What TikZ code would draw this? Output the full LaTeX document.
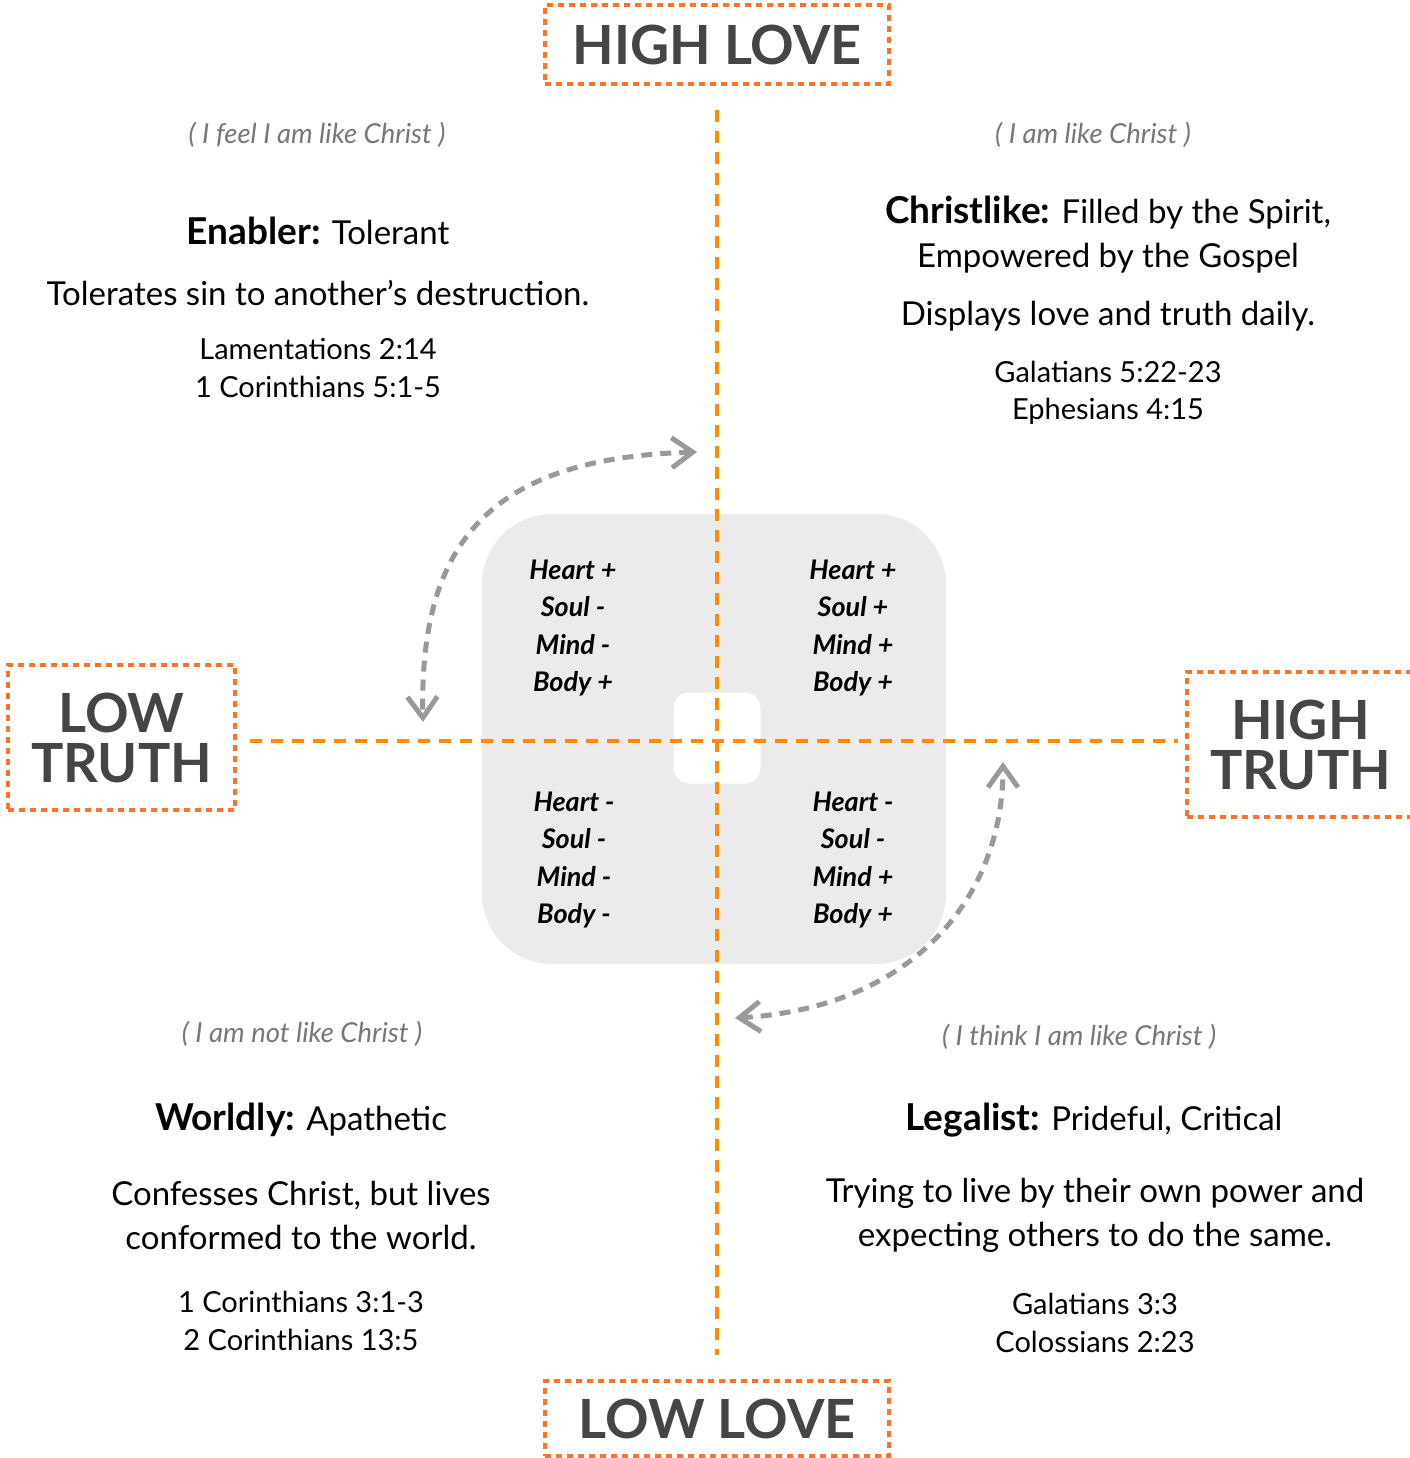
\documentclass[tikz,border=0pt]{standalone}
\usepackage{fontspec}
\setmainfont{Lato}
\usetikzlibrary{positioning,arrows.meta}
\definecolor{axisorange}{HTML}{FF8C00}
\definecolor{boxorange}{HTML}{FF7328}
\definecolor{labelgray}{HTML}{454545}
\definecolor{notegray}{HTML}{777777}
\definecolor{arrowgray}{HTML}{999999}
\definecolor{panelgray}{HTML}{EBEBEB}

\begin{document}
\begin{tikzpicture}
        [x=1pt, y=-1pt,
        axislabel/.style={draw=boxorange, line width=4.5pt, dash pattern=on 6pt off 5pt,
            text=labelgray, align=center, inner sep=0pt,
            font=\fontsize{54}{52}\selectfont\bfseries},
        axisline/.style={draw=axisorange, line width=4pt, dash pattern=on 12pt off 9pt},
        swing/.style={draw=arrowgray, line width=5pt, dash pattern=on 11pt off 8pt,
            {Straight Barb[length=21pt,width=30pt]}-{Straight Barb[length=21pt,width=30pt]}},
        note/.style={text=notegray, font=\fontsize{27.5}{30}\selectfont\itshape},
        heading/.style={font=\fontsize{33}{44}\selectfont, align=center},
        body/.style={font=\fontsize{33}{44}\selectfont, align=center},
        refs/.style={font=\fontsize{29}{37.5}\selectfont, align=center},
        parts/.style={font=\fontsize{27}{37.5}\selectfont\bfseries\itshape, align=center}]
        \useasboundingbox (0,0) rectangle (1409,1458);

        % panel behind the quadrants
        \node [fill=panelgray, rounded corners=70pt, minimum width=464pt, minimum height=450pt] (panel) at (714,739) {};
        \node [fill=white, rounded corners=16pt, minimum width=87pt, minimum height=91pt] (hole) at (717,738) {};

        \node [axislabel, minimum width=344pt, minimum height=79pt] (HighLove) at (717,44.5) {HIGH LOVE};
        \node [axislabel, minimum width=344pt, minimum height=75pt] (LowLove) at (717,1418.5) {LOW LOVE};
        \node [axislabel, minimum width=227pt, minimum height=145pt] (LowTruth) at (121.5,737.5) {LOW\\[-2pt]TRUTH};
        \node [axislabel, minimum width=227pt, minimum height=145pt] (HighTruth) at (1300.5,744.5) {HIGH\\[-2pt]TRUTH};

        \coordinate (center) at (717,741);
        \draw [axisline, shorten <=24pt, shorten >=24pt] (HighLove.south) -- (LowLove.north);
        \draw [axisline, shorten <=13pt, shorten >=7pt] (LowTruth.east |- center) -- (HighTruth.west |- center);

        \coordinate (swingTLa) at (697,452);
        \coordinate (swingTLb) at (423,722);
        \coordinate (swingBRa) at (735,1018);
        \coordinate (swingBRb) at (1003,762);
        \draw [swing] (swingTLa) .. controls (492,458) and (419,540) .. (swingTLb);
        \draw [swing] (swingBRa) .. controls (910,1008) and (1003,900) .. (swingBRb);

        % quadrant scores
        \node [parts] (partsTL) at (573,628) {Heart +\\Soul -\\Mind -\\Body +};
        \node [parts] (partsTR) at (853,628) {Heart +\\Soul +\\Mind +\\Body +};
        \node [parts] (partsBL) at (574,860) {Heart -\\Soul -\\Mind -\\Body -};
        \node [parts] (partsBR) at (853,860) {Heart -\\Soul -\\Mind +\\Body +};

        % top left
        \node [note] (noteTL) at (317,135) {( I feel I am like Christ )};
        \node [heading] (headTL) at (318,231) {\textbf{\fontsize{37}{44}\selectfont Enabler:} Tolerant};
        \node [body] (bodyTL) at (318,293) {Tolerates sin to another’s destruction.};
        \node [refs] (refsTL) at (318,368) {Lamentations 2:14\\1 Corinthians 5:1-5};

        % top right
        \node [note] (noteTR) at (1093,135) {( I am like Christ )};
        \node [heading] (headTR) at (1108,235) {\textbf{\fontsize{37}{44}\selectfont Christlike:} Filled by the Spirit,\\Empowered by the Gospel};
        \node [body] (bodyTR) at (1108,316) {Displays love and truth daily.};
        \node [refs] (refsTR) at (1108,393) {Galatians 5:22-23\\Ephesians 4:15};

        % bottom left
        \node [note] (noteBL) at (302,1034) {( I am not like Christ )};
        \node [heading] (headBL) at (301,1120) {\textbf{\fontsize{37}{44}\selectfont Worldly:} Apathetic};
        \node [body] (bodyBL) at (301,1215) {Confesses Christ, but lives\\conformed to the world.};
        \node [refs] (refsBL) at (301,1321) {1 Corinthians 3:1-3\\2 Corinthians 13:5};

        % bottom right
        \node [note] (noteBR) at (1079,1037) {( I think I am like Christ )};
        \node [heading] (headBR) at (1094,1120) {\textbf{\fontsize{37}{44}\selectfont Legalist:} Prideful, Critical};
        \node [body] (bodyBR) at (1095,1215) {Trying to live by their own power and\\expecting others to do the same.};
        \node [refs] (refsBR) at (1095,1323) {Galatians 3:3\\Colossians 2:23};
\end{tikzpicture}
\end{document}
